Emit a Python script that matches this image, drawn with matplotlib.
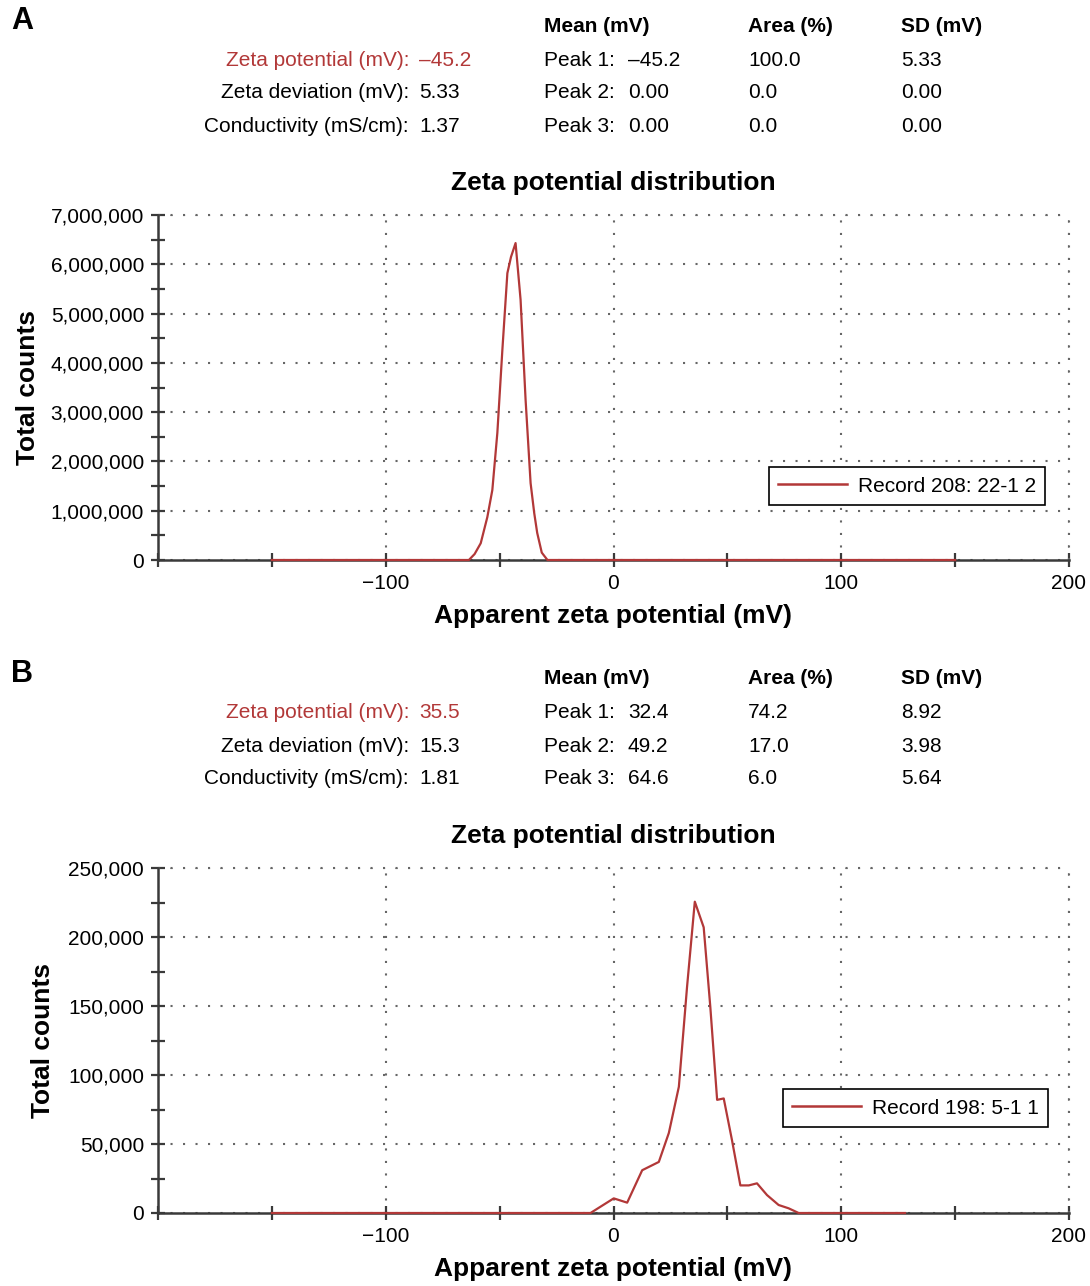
import matplotlib
matplotlib.use("Agg")
import matplotlib.pyplot as plt
from matplotlib.ticker import FuncFormatter, MultipleLocator
from matplotlib.lines import Line2D

plt.rcParams['font.family'] = ['Liberation Sans', 'DejaVu Sans']

W, H = 1090, 1286

# панель A: распределение zeta потенциала
xa = [-150, -63.5, -61.0, -58.3, -55.4, -53.2, -51.0, -48.8, -46.6, -45.0, -43.0,
      -40.8, -38.6, -36.4, -34.8, -33.5, -31.5, -29.0, 150]
ya = [0, 0, 0.12e6, 0.34e6, 0.87e6, 1.42e6, 2.58e6, 4.26e6, 5.82e6, 6.15e6, 6.43e6,
      5.28e6, 3.25e6, 1.56e6, 0.95e6, 0.55e6, 0.15e6, 0, 0]

# панель B
xb = [-150, -10.1, 0.1, 6.0, 12.6, 19.9, 24.3, 28.7, 32.3, 35.7, 39.6, 42.5,
      45.5, 48.4, 52.0, 55.7, 59.4, 63.0, 67.4, 72.5, 76.9, 81.3, 128]
yb = [0, 0, 10600, 7500, 31000, 37000, 58000, 91500, 164000, 225600, 207000,
      149500, 82000, 83000, 53000, 20000, 20000, 21500, 13000, 5800, 3400, 0, 0]

info_a = {
    "left_lbl": ["Zeta potential (mV):", "Zeta deviation (mV):", "Conductivity (mS/cm):"],
    "left_val": ["\u201345.2", "5.33", "1.37"],
    "peak_mean": ["\u201345.2", "0.00", "0.00"],
    "peak_area": ["100.0", "0.0", "0.0"],
    "peak_sd": ["5.33", "0.00", "0.00"],
}
info_b = {
    "left_lbl": ["Zeta potential (mV):", "Zeta deviation (mV):", "Conductivity (mS/cm):"],
    "left_val": ["35.5", "15.3", "1.81"],
    "peak_mean": ["32.4", "49.2", "64.6"],
    "peak_area": ["74.2", "17.0", "6.0"],
    "peak_sd": ["8.92", "3.98", "5.64"],
}

red = '#b23838'
dark = '#3a3a3a'

fig = plt.figure(figsize=(W / 100, H / 100), dpi=100)


def ftext(x, y, s, **kw):
    fig.text(x / W, 1 - y / H, s, va='center', **kw)


def table(y0, info, letter):
    ftext(11, y0 - 5, letter, fontsize=22, fontweight='bold', ha='left')
    ftext(544, y0, "Mean (mV)", fontsize=15, fontweight='bold', ha='left')
    ftext(748, y0, "Area (%)", fontsize=15, fontweight='bold', ha='left')
    ftext(901, y0, "SD (mV)", fontsize=15, fontweight='bold', ha='left')
    for i in range(3):
        y = y0 + 34 + 33 * i
        c = red if i == 0 else 'black'
        ftext(409, y, info["left_lbl"][i], fontsize=15, ha='right', color=c)
        ftext(419, y, info["left_val"][i], fontsize=15, ha='left', color=c)
        ftext(544, y, "Peak %d:" % (i + 1), fontsize=15, ha='left')
        ftext(628, y, info["peak_mean"][i], fontsize=15, ha='left')
        ftext(748, y, info["peak_area"][i], fontsize=15, ha='left')
        ftext(901, y, info["peak_sd"][i], fontsize=15, ha='left')


def panel(top, x, y, ymax, ystep, rec, leg_loc, ylab_x):
    ax = fig.add_axes([158 / W, 1 - (top + 345) / H, 911 / W, 345 / H])
    ax.plot(x, y, color=red, lw=1.6, zorder=3, clip_on=False)
    ax.set_xlim(-200, 200)
    ax.set_ylim(0, ymax)
    ax.xaxis.set_major_locator(MultipleLocator(100))
    ax.xaxis.set_minor_locator(MultipleLocator(50))
    ax.yaxis.set_major_locator(MultipleLocator(ystep))
    ax.yaxis.set_minor_locator(MultipleLocator(ystep / 2))
    ax.yaxis.set_major_formatter(FuncFormatter(lambda v, p: "{:,.0f}".format(v)))
    ax.xaxis.set_major_formatter(FuncFormatter(
        lambda v, p: "" if v <= -200 else ("\u2212%d" % -v if v < 0 else "%d" % v)))
    for s in ['top', 'right']:
        ax.spines[s].set_visible(False)
    for s in ['left', 'bottom']:
        ax.spines[s].set_color(dark)
        ax.spines[s].set_linewidth(1.8)
    ax.tick_params(which='both', direction='inout', color=dark, width=1.6)
    ax.tick_params(which='major', length=10, labelsize=15, pad=5)
    ax.tick_params(which='minor', length=10)
    ax.grid(True, which='major', color='#666666', linestyle=(0, (1, 5)), lw=1.5)
    # сетка на краях
    ax.axhline(ymax, color='#666666', linestyle=(0, (1, 5)), lw=1.5, clip_on=False)
    ax.axvline(200, color='#666666', linestyle=(0, (1, 5)), lw=1.5, clip_on=False)
    ax.set_title("Zeta potential distribution", fontsize=19, fontweight='bold', pad=18)
    ax.set_xlabel("Apparent zeta potential (mV)", fontsize=19, fontweight='bold', labelpad=8)
    ax.set_ylabel("Total counts", fontsize=19, fontweight='bold')
    ax.yaxis.set_label_coords((ylab_x - 158) / 911, 0.5)
    h = Line2D([], [], color=red, lw=1.8)
    leg = ax.legend([h], [rec], loc='lower left', bbox_to_anchor=leg_loc, fontsize=15,
                    handlelength=3.3, fancybox=False, framealpha=1, borderpad=0.45,
                    handletextpad=0.5, borderaxespad=0)
    leg.get_frame().set_edgecolor('black')
    leg.get_frame().set_linewidth(1.2)
    return ax


table(26, info_a, "A")
panel(215, xa, ya, 7e6, 1e6, "Record 208: 22-1 2", ((769 - 158) / 911, (560 - 505) / 345), 40)
table(679, info_b, "B")
panel(868, xb, yb, 250000, 50000, "Record 198: 5-1 1", ((783 - 158) / 911, (1213 - 1127) / 345), 55)

fig.savefig("out.png", dpi=100)
